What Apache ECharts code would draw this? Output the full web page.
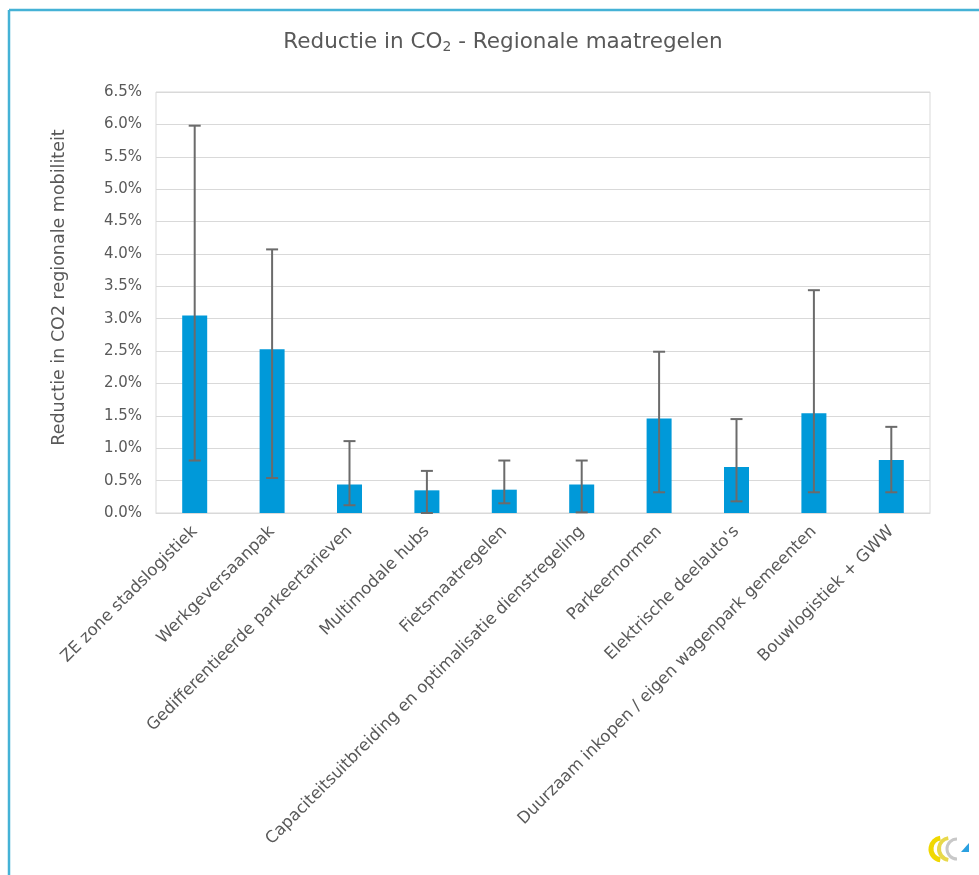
<!DOCTYPE html>
<html>
<head>
<meta charset="utf-8">
<script src="https://cdn.jsdelivr.net/npm/echarts@6/dist/echarts.min.js"></script>
<style>html,body{margin:0;padding:0;background:#fff}#c{width:979px;height:875px}</style>
</head>
<body>
<div id="c"></div>
<script>
const categories = [
  "ZE zone stadslogistiek",
  "Werkgeversaanpak",
  "Gedifferentieerde parkeertarieven",
  "Multimodale hubs",
  "Fietsmaatregelen",
  "Capaciteitsuitbreiding en optimalisatie dienstregeling",
  "Parkeernormen",
  "Elektrische deelauto's",
  "Duurzaam inkopen / eigen wagenpark gemeenten",
  "Bouwlogistiek + GWW"
];
const reduction = [3.05, 2.53, 0.44, 0.35, 0.36, 0.44, 1.46, 0.71, 1.54, 0.82];
const errLow =    [0.81, 0.54, 0.12, 0.00, 0.15, 0.01, 0.32, 0.18, 0.32, 0.32];
const errHigh =   [5.98, 4.07, 1.11, 0.65, 0.81, 0.81, 2.49, 1.45, 3.44, 1.33];
const yTicks = { min: 0, max: 6.5, interval: 0.5 };

const font = "DejaVu Sans";
const grey = "#595959";
const chart = echarts.init(document.getElementById('c'), null, { renderer: 'canvas' });

const errData = categories.map((c, i) => [i, errLow[i], errHigh[i]]);

chart.setOption({
  animation: false,
  backgroundColor: '#ffffff',
  title: {
    text: '{a|Reductie in CO}{s|2}{a| - Regionale maatregelen}',
    left: 498, top: 25, textAlign: 'center',
    textStyle: {
      fontWeight: 'normal',
      rich: {
        a: { fontFamily: 'DejaVu Sans', fontSize: 21.5, fontWeight: 'normal', color: grey },
        s: { fontFamily: 'DejaVu Sans', fontSize: 14, fontWeight: 'normal', color: grey, verticalAlign: 'bottom', padding: [10, 0, 0, 0] }
      }
    }
  },
  grid: { left: 156, right: 49, top: 92, bottom: 362, show: true, borderColor: '#d9d9d9', borderWidth: 1 },
  xAxis: {
    type: 'category',
    data: categories,
    axisLine: { show: true, lineStyle: { color: '#d9d9d9', width: 1 } },
    axisTick: { show: false },
    axisLabel: { rotate: 45, interval: 0, color: grey, fontFamily: font, fontSize: 16.5, margin: 16 }
  },
  yAxis: {
    type: 'value',
    min: yTicks.min, max: yTicks.max, interval: yTicks.interval,
    name: 'Reductie in CO2 regionale mobiliteit',
    nameLocation: 'middle', nameGap: 88, nameRotate: 90,
    nameTextStyle: { color: grey, fontFamily: font, fontSize: 17.5, padding: [0, 0, 0, 30] },
    axisLine: { show: false },
    axisTick: { show: false },
    axisLabel: { color: grey, fontFamily: 'DejaVu Sans', fontSize: 15, margin: 14, formatter: v => v.toFixed(1) + '%' },
    splitLine: { lineStyle: { color: '#d9d9d9', width: 1 } }
  },
  series: [
    {
      type: 'bar', data: reduction, barWidth: 25,
      itemStyle: { color: '#0099d9' }
    },
    {
      type: 'custom', data: errData, z: 10,
      renderItem: function (params, api) {
        const x = api.value(0);
        const lo = api.coord([x, api.value(1)]);
        const hi = api.coord([x, api.value(2)]);
        const cap = 6;
        const st = { stroke: '#6b6b6b', lineWidth: 2 };
        return {
          type: 'group',
          children: [
            { type: 'line', shape: { x1: lo[0], y1: lo[1], x2: hi[0], y2: hi[1] }, style: st },
            { type: 'line', shape: { x1: lo[0] - cap, y1: lo[1], x2: lo[0] + cap, y2: lo[1] }, style: st },
            { type: 'line', shape: { x1: hi[0] - cap, y1: hi[1], x2: hi[0] + cap, y2: hi[1] }, style: st }
          ]
        };
      }
    }
  ],
  graphic: [
    { type: 'line', shape: { x1: 9, y1: 10, x2: 979, y2: 10 }, style: { stroke: '#45b2d6', lineWidth: 2.5 } },
    { type: 'line', shape: { x1: 9, y1: 10, x2: 9, y2: 875 }, style: { stroke: '#45b2d6', lineWidth: 2.5 } },
    { type: 'arc', shape: { cx: 942, cy: 849, r: 11, startAngle: Math.PI * 0.55, endAngle: Math.PI * 1.45 }, style: { stroke: '#f0d800', lineWidth: 5, fill: null } },
    { type: 'arc', shape: { cx: 950, cy: 849, r: 11, startAngle: Math.PI * 0.55, endAngle: Math.PI * 1.45 }, style: { stroke: '#e8d84a', lineWidth: 4, fill: null } },
    { type: 'arc', shape: { cx: 957, cy: 849, r: 10, startAngle: Math.PI * 0.5, endAngle: Math.PI * 1.5 }, style: { stroke: '#c8c8c8', lineWidth: 3, fill: null } },
    { type: 'polygon', shape: { points: [[961, 852], [969, 852], [969, 843]] }, style: { fill: '#2aa0e0' } }
  ]
});
</script>
</body>
</html>
